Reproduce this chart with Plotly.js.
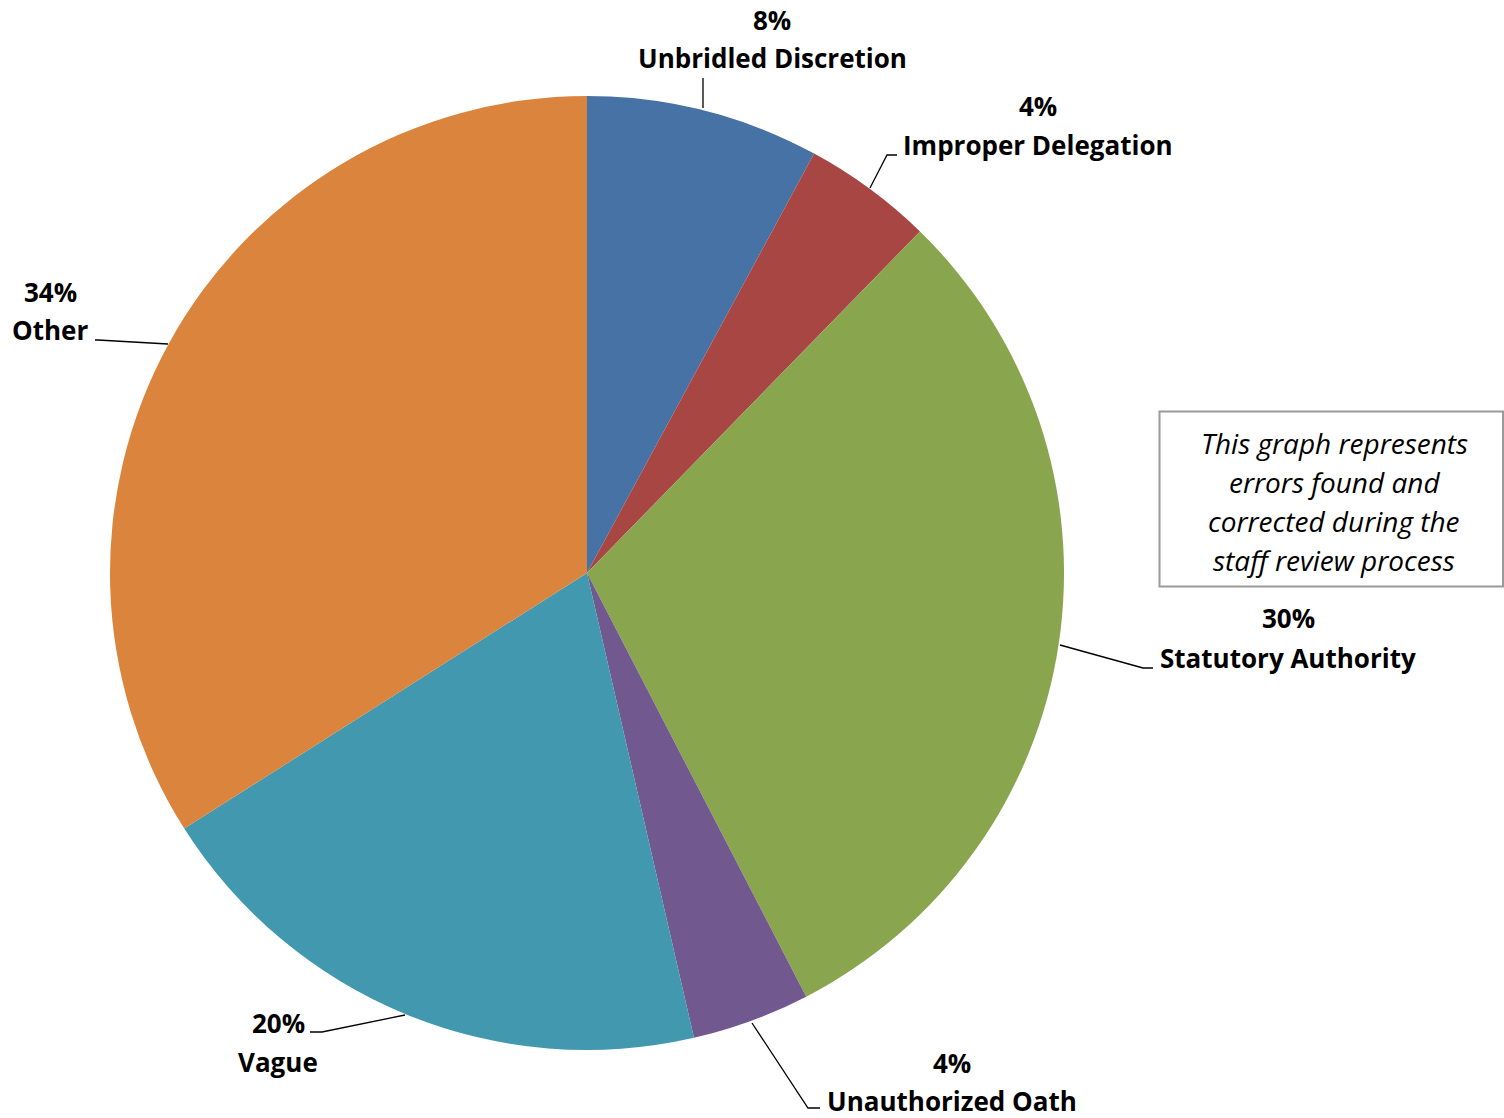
<!DOCTYPE html>
<html>
<head>
<meta charset="utf-8">
<script src="https://cdn.plot.ly/plotly-3.0.1.min.js"></script>
<style>html,body{margin:0;padding:0;background:#fff;}#chart{width:1504px;height:1118px;}</style>
</head>
<body>
<div id="chart"></div>
<script>
// ---- data ----
const categories = ["Unbridled Discretion", "Improper Delegation", "Statutory Authority", "Unauthorized Oath", "Vague", "Other"];
const shares = [7.9, 4.4, 30.1, 4.0, 19.6, 34.0];
const sliceColors = ["#4672A5", "#A84644", "#89A54E", "#71588F", "#4198AF", "#DB843D"];
const noteLines = ["This graph represents", "errors found and", "corrected during the", "staff review process"];

// ---- layout helpers (pixel -> paper) ----
const W = 1504, H = 1118;
const px = x => x / W;
const py = y => 1 - y / H;

const total = shares.reduce((a, b) => a + b, 0);
const pctText = shares.map(v => Math.round(v / total * 100) + "%");

// label placement (pixel centres for percent line and name line)
const labelPos = [
  {x: 772, yp: 20, yn: 58},
  {x: 1038, yp: 106, yn: 145},
  {x: 1288, yp: 618, yn: 658},
  {x: 952, yp: 1063, yn: 1101},
  {x: 278, yp: 1023, yn: 1062},
  {x: 50, yp: 292, yn: 330}
];
// leader lines (pixel polylines)
const leaders = [
  [[703, 108], [703, 78]],
  [[870, 188], [887, 155], [897, 155]],
  [[1060, 645], [1143, 668], [1153, 668]],
  [[752, 1023], [808, 1108], [820, 1108]],
  [[405, 1015], [322, 1032], [310, 1032]],
  [[168, 344], [98, 340], [95, 340]]
];

const labelFont = {family: "'Open Sans', sans-serif", size: 26, color: "#000"};
const annotations = [];
categories.forEach((c, i) => {
  const p = labelPos[i];
  annotations.push({xref: "paper", yref: "paper", x: px(p.x), y: py(p.yp), text: "<b>" + pctText[i] + "</b>",
    showarrow: false, xanchor: "center", yanchor: "middle", font: labelFont});
  annotations.push({xref: "paper", yref: "paper", x: px(p.x), y: py(p.yn), text: "<b>" + c + "</b>",
    showarrow: false, xanchor: "center", yanchor: "middle", font: labelFont});
});
const noteY = [443, 482, 521, 560];
noteLines.forEach((t, i) => {
  annotations.push({xref: "paper", yref: "paper", x: px(1334), y: py(noteY[i]), text: "<i>" + t + "</i>",
    showarrow: false, xanchor: "center", yanchor: "middle",
    font: {family: "'Open Sans', sans-serif", size: 28, color: "#000"}});
});

const shapes = leaders.map(pts => ({
  type: "path", xref: "paper", yref: "paper",
  path: pts.map((p, k) => (k ? "L" : "M") + px(p[0]) + "," + py(p[1])).join(" "),
  line: {color: "#000", width: 1.3}
}));
shapes.push({type: "rect", xref: "paper", yref: "paper", x0: px(1159.5), x1: px(1503), y0: py(411.5), y1: py(586.5),
  line: {color: "#9a9a9a", width: 2}, fillcolor: "rgba(0,0,0,0)"});

const trace = {
  type: "pie",
  labels: categories,
  values: shares,
  sort: false,
  direction: "clockwise",
  rotation: 0,
  textinfo: "none",
  hoverinfo: "label+percent",
  marker: {colors: sliceColors, line: {width: 0}},
  domain: {x: [px(110), px(1064)], y: [py(1050), py(96)]},
  showlegend: false
};

const layout = {
  width: W, height: H,
  margin: {l: 0, r: 0, t: 0, b: 0},
  paper_bgcolor: "#fff",
  plot_bgcolor: "#fff",
  showlegend: false,
  annotations: annotations,
  shapes: shapes
};

Plotly.newPlot("chart", [trace], layout, {displayModeBar: false, staticPlot: true});
</script>
</body>
</html>
